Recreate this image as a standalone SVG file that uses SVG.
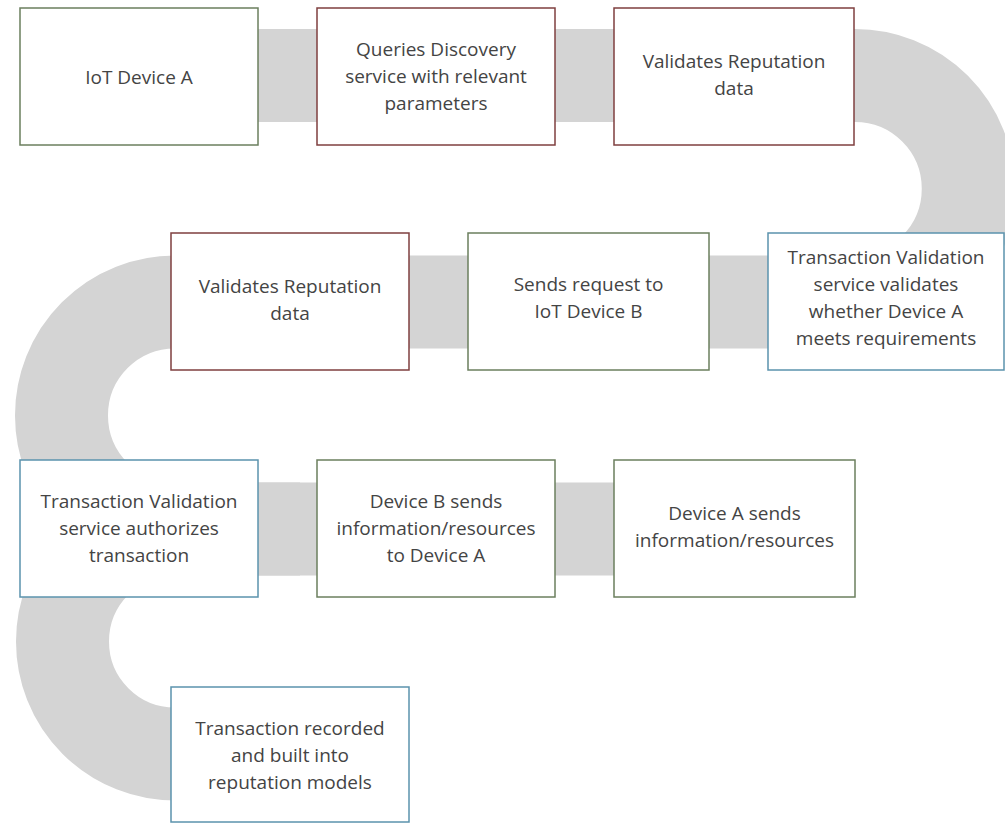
<svg xmlns="http://www.w3.org/2000/svg" width="1005" height="824" viewBox="0 0 1005 824">
<style>
.band{fill:none;stroke:#d4d4d4;stroke-width:93}
.box{fill:#ffffff;stroke-width:1.5}
.g{stroke:#6b7f5e}
.r{stroke:#7f3f3f}
.b{stroke:#5b93ad}
text{font-family:"Open Sans","Noto Sans","Liberation Sans",sans-serif;font-size:19px;fill:#444444;text-anchor:middle}
</style>
<rect width="1005" height="824" fill="#ffffff"/>
<g id="connectors">
<path class="band" d="M 140 75.5 H 855 A 113.25 113.25 0 0 1 855 302 H 175 A 113.5 113.5 0 0 0 175 529 H 740"/>
<path class="band" d="M 300 529 H 175 A 112.5 112.5 0 0 0 175 754 H 290"/>
</g>
<g id="n1"><rect class="box g" x="20" y="8" width="238" height="137"/>
<text x="139" y="84">IoT Device A</text></g>
<g id="n2"><rect class="box r" x="317" y="8" width="238" height="137"/>
<text x="436" y="56">Queries Discovery</text><text x="436" y="83">service with relevant</text><text x="436" y="110">parameters</text></g>
<g id="n3"><rect class="box r" x="614" y="8" width="240" height="137"/>
<text x="734" y="68">Validates Reputation</text><text x="734" y="95">data</text></g>
<g id="n4"><rect class="box r" x="171" y="233" width="238" height="137"/>
<text x="290" y="293">Validates Reputation</text><text x="290" y="320">data</text></g>
<g id="n5"><rect class="box g" x="468" y="233" width="241" height="137"/>
<text x="588.5" y="291">Sends request to</text><text x="588.5" y="318">IoT Device B</text></g>
<g id="n6"><rect class="box b" x="768" y="233" width="236" height="137"/>
<text x="886" y="264">Transaction Validation</text><text x="886" y="291">service validates</text><text x="886" y="318">whether Device A</text><text x="886" y="345">meets requirements</text></g>
<g id="n7"><rect class="box b" x="20" y="460" width="238" height="137"/>
<text x="139" y="508">Transaction Validation</text><text x="139" y="535">service authorizes</text><text x="139" y="562">transaction</text></g>
<g id="n8"><rect class="box g" x="317" y="460" width="238" height="137"/>
<text x="436" y="508">Device B sends</text><text x="436" y="535">information/resources</text><text x="436" y="562">to Device A</text></g>
<g id="n9"><rect class="box g" x="614" y="460" width="241" height="137"/>
<text x="734.5" y="520">Device A sends</text><text x="734.5" y="547">information/resources</text></g>
<g id="n10"><rect class="box b" x="171" y="687" width="238" height="135"/>
<text x="290" y="735">Transaction recorded</text><text x="290" y="762">and built into</text><text x="290" y="789">reputation models</text></g>
</svg>
